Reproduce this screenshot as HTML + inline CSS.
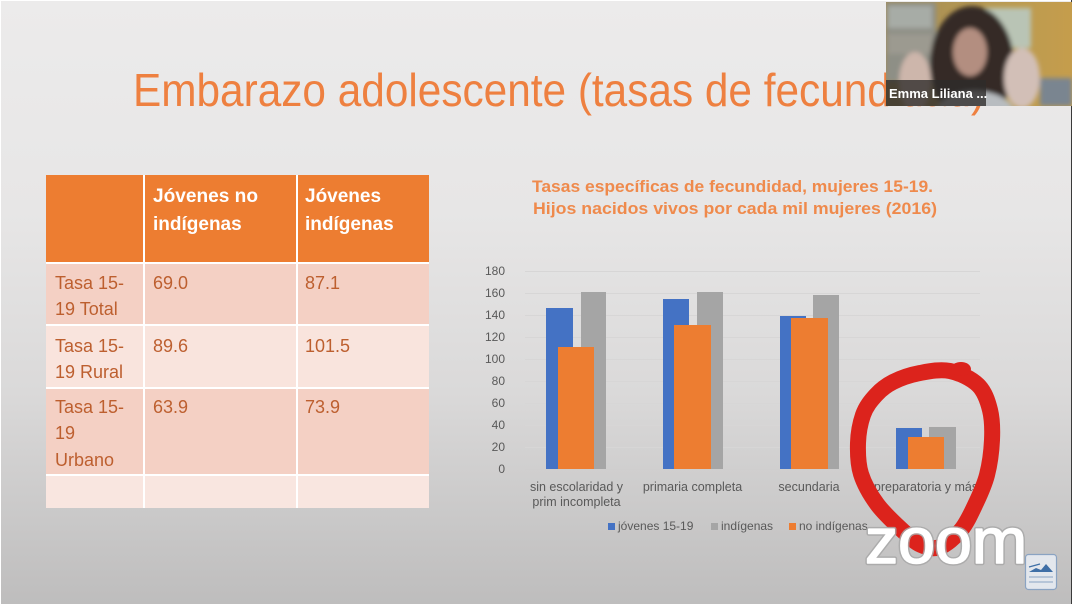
<!DOCTYPE html>
<html>
<head>
<meta charset="utf-8">
<style>
html,body{margin:0;padding:0;background:#ffffff;}
body{width:1076px;height:604px;overflow:hidden;position:relative;}
#slide{position:absolute;left:1px;top:1px;width:1070px;height:603px;
background:linear-gradient(180deg,#ecebeb 0%,#e7e6e6 35%,#dad9d9 65%,#bebdbd 100%);}
#edge{position:absolute;left:1071px;top:0;width:1px;height:604px;background:#3a3a3a;}
svg{position:absolute;left:0;top:0;}
</style>
</head>
<body>
<div id="slide"></div>
<div id="edge"></div>
<svg width="1076" height="604" viewBox="0 0 1076 604" xmlns="http://www.w3.org/2000/svg">
  <defs>
    <clipPath id="vclip"><rect x="886" y="2" width="186" height="104"/></clipPath>
    <filter id="blur" x="-10%" y="-10%" width="120%" height="120%"><feGaussianBlur stdDeviation="2.5"/></filter>
    <linearGradient id="wall" x1="0" y1="0" x2="1" y2="0">
      <stop offset="0" stop-color="#a48c55"/>
      <stop offset="0.6" stop-color="#b89a52"/>
      <stop offset="1" stop-color="#c59d4c"/>
    </linearGradient>
  </defs>

  <!-- Main title -->
  <text x="133" y="106" font-family="Liberation Sans, sans-serif" font-size="46" fill="#ee8040" textLength="852" lengthAdjust="spacingAndGlyphs">Embarazo adolescente (tasas de fecundidad)</text>

  <!-- Table -->
  <g>
    <rect x="46" y="175" width="383" height="333" fill="#ffffff"/>
    <rect x="46" y="175" width="97" height="87" fill="#ed7d31"/>
    <rect x="145" y="175" width="151" height="87" fill="#ed7d31"/>
    <rect x="298" y="175" width="131" height="87" fill="#ed7d31"/>

    <rect x="46" y="264" width="97" height="60" fill="#f4d0c4"/>
    <rect x="145" y="264" width="151" height="60" fill="#f4d0c4"/>
    <rect x="298" y="264" width="131" height="60" fill="#f4d0c4"/>

    <rect x="46" y="326" width="97" height="61" fill="#f9e4dd"/>
    <rect x="145" y="326" width="151" height="61" fill="#f9e4dd"/>
    <rect x="298" y="326" width="131" height="61" fill="#f9e4dd"/>

    <rect x="46" y="389" width="97" height="85" fill="#f4d0c4"/>
    <rect x="145" y="389" width="151" height="85" fill="#f4d0c4"/>
    <rect x="298" y="389" width="131" height="85" fill="#f4d0c4"/>

    <rect x="46" y="476" width="97" height="32" fill="#f9e6e0"/>
    <rect x="145" y="476" width="151" height="32" fill="#f9e6e0"/>
    <rect x="298" y="476" width="131" height="32" fill="#f9e6e0"/>
  </g>
  <g font-family="Liberation Sans, sans-serif" font-weight="bold" font-size="19" fill="#ffffff">
    <text x="153" y="202" textLength="105" lengthAdjust="spacingAndGlyphs">Jóvenes no</text>
    <text x="153" y="230">indígenas</text>
    <text x="305" y="202">Jóvenes</text>
    <text x="305" y="230">indígenas</text>
  </g>
  <g font-family="Liberation Sans, sans-serif" font-size="18" fill="#bd5f2f">
    <text x="55" y="289">Tasa 15-</text>
    <text x="55" y="315">19 Total</text>
    <text x="153" y="289">69.0</text>
    <text x="305" y="289">87.1</text>

    <text x="55" y="352">Tasa 15-</text>
    <text x="55" y="378">19 Rural</text>
    <text x="153" y="352">89.6</text>
    <text x="305" y="352">101.5</text>

    <text x="55" y="413">Tasa 15-</text>
    <text x="55" y="439">19</text>
    <text x="55" y="466">Urbano</text>
    <text x="153" y="413">63.9</text>
    <text x="305" y="413">73.9</text>
  </g>

  <!-- Chart title -->
  <g font-family="Liberation Sans, sans-serif" font-weight="bold" font-size="17" fill="#ef8a4c">
    <text x="532" y="192" textLength="401" lengthAdjust="spacingAndGlyphs">Tasas específicas de fecundidad, mujeres 15-19.</text>
    <text x="533" y="214" textLength="404" lengthAdjust="spacingAndGlyphs">Hijos nacidos vivos por cada mil mujeres (2016)</text>
  </g>

  <!-- Gridlines -->
  <g stroke="#d7d6d6" stroke-width="1">
    <line x1="525" x2="980" y1="271.5" y2="271.5"/>
    <line x1="525" x2="980" y1="293.5" y2="293.5"/>
    <line x1="525" x2="980" y1="315.5" y2="315.5"/>
    <line x1="525" x2="980" y1="337.5" y2="337.5"/>
    <line x1="525" x2="980" y1="359.5" y2="359.5"/>
    <line x1="525" x2="980" y1="381.5" y2="381.5"/>
    <line x1="525" x2="980" y1="403.5" y2="403.5"/>
    <line x1="525" x2="980" y1="425.5" y2="425.5"/>
    <line x1="525" x2="980" y1="447.5" y2="447.5"/>
    <line x1="525" x2="980" y1="469.5" y2="469.5" stroke="#cfcece"/>
  </g>
  <!-- Y labels -->
  <g font-family="Liberation Sans, sans-serif" font-size="12" fill="#595959" text-anchor="end">
    <text x="505" y="275">180</text>
    <text x="505" y="297">160</text>
    <text x="505" y="319">140</text>
    <text x="505" y="341">120</text>
    <text x="505" y="363">100</text>
    <text x="505" y="385">80</text>
    <text x="505" y="407">60</text>
    <text x="505" y="429">40</text>
    <text x="505" y="451">20</text>
    <text x="505" y="473">0</text>
  </g>

  <!-- Bars -->
  <g>
    <rect x="546" y="308" width="27" height="161" fill="#4472c4"/>
    <rect x="581" y="292" width="25" height="177" fill="#a5a5a5"/>
    <rect x="558" y="347" width="36" height="122" fill="#ed7d31"/>

    <rect x="663" y="299" width="26" height="170" fill="#4472c4"/>
    <rect x="697" y="292" width="26" height="177" fill="#a5a5a5"/>
    <rect x="674" y="325" width="37" height="144" fill="#ed7d31"/>

    <rect x="780" y="316" width="26" height="153" fill="#4472c4"/>
    <rect x="813" y="295" width="26" height="174" fill="#a5a5a5"/>
    <rect x="791" y="318" width="37" height="151" fill="#ed7d31"/>

    <rect x="896" y="428" width="26" height="41" fill="#4472c4"/>
    <rect x="929" y="427" width="27" height="42" fill="#a5a5a5"/>
    <rect x="908" y="437" width="36" height="32" fill="#ed7d31"/>
  </g>

  <!-- Category labels -->
  <g font-family="Liberation Sans, sans-serif" font-size="12.5" fill="#595959" text-anchor="middle">
    <text x="576.5" y="491">sin escolaridad y</text>
    <text x="576.5" y="506">prim incompleta</text>
    <text x="692.5" y="491">primaria completa</text>
    <text x="809" y="491">secundaria</text>
    <text x="926" y="491">preparatoria y más</text>
  </g>

  <!-- Legend -->
  <g font-family="Liberation Sans, sans-serif" font-size="12" fill="#595959">
    <rect x="608" y="523" width="7" height="7" fill="#4472c4"/>
    <text x="618" y="530">jóvenes 15-19</text>
    <rect x="711" y="523" width="7" height="7" fill="#a5a5a5"/>
    <text x="721" y="530">indígenas</text>
    <rect x="789" y="523" width="7" height="7" fill="#ed7d31"/>
    <text x="799" y="530">no indígenas</text>
  </g>

  <!-- Red hand-drawn circle -->
  <g>
    <path d="M876,395
      C881,389.5 885.7,385.7 893,382
      C900.3,378.3 910.5,374.8 920,373
      C929.5,371.2 940.3,369 950,371
      C959.7,373 971.3,378.5 978,385
      C984.7,391.5 987.7,400.8 990,410
      C992.3,419.2 992.5,429.2 992,440
      C991.5,450.8 989.7,464.5 987,475
      C984.3,485.5 980.3,493.8 976,503
      C971.7,512.2 967,522.7 961,530
      C955,537.3 946.7,544.5 940,547
      C933.3,549.5 927.3,547.8 921,545
      C914.7,542.2 909.3,536.8 902,530
      C894.7,523.2 883.8,513.3 877,504
      C870.2,494.7 864.2,484.2 861,474
      C857.8,463.8 857.7,452.8 858,443
      C858.3,433.2 860,423.7 863,415
      C866,406.3 871,400.5 876,395 Z"
      fill="none" stroke="#dc231c" stroke-width="16" stroke-linejoin="round"/>
    <ellipse cx="961" cy="369" rx="10" ry="7" fill="#dc231c"/>
  </g>

  <!-- Zoom watermark -->
  <text x="865" y="563" font-family="Liberation Sans, sans-serif" font-size="64" fill="#ffffff" stroke="#a8a8a8" stroke-width="4.5" stroke-linejoin="round" textLength="162" lengthAdjust="spacingAndGlyphs" opacity="0.85">zoom</text>
  <text x="865" y="563" font-family="Liberation Sans, sans-serif" font-size="64" fill="#ffffff" stroke="#ffffff" stroke-width="1.6" stroke-linejoin="round" textLength="162" lengthAdjust="spacingAndGlyphs">zoom</text>

  <!-- small logo -->
  <g>
    <rect x="1025.5" y="554.5" width="31" height="35" rx="3" fill="#e3e7ed" stroke="#8aa3c2" stroke-width="1.2"/>
    <path d="M1029,572 L1036,568 L1041,570 L1046,564 L1053,572 Z" fill="#3f6fa6"/>
    <line x1="1029" y1="567" x2="1040" y2="564" stroke="#3f6fa6" stroke-width="1.2"/>
    <line x1="1029" y1="577" x2="1053" y2="577" stroke="#8aa3c2" stroke-width="1"/>
    <line x1="1029" y1="582" x2="1053" y2="582" stroke="#8aa3c2" stroke-width="1"/>
  </g>

  <!-- Video thumbnail -->
  <g clip-path="url(#vclip)">
    <rect x="886" y="2" width="186" height="104" fill="url(#wall)"/>
    <g filter="url(#blur)">
      <rect x="886" y="2" width="50" height="80" fill="#8e8f86"/>
      <rect x="888" y="6" width="44" height="22" fill="#a7aca6"/>
      <rect x="888" y="34" width="44" height="20" fill="#9c9a90"/>
      <rect x="942" y="30" width="16" height="26" fill="#4a4636"/>
      <rect x="985" y="8" width="46" height="40" fill="#b9c4b5"/>
      <rect x="1040" y="78" width="32" height="28" fill="#7a8590"/>
      <ellipse cx="972" cy="64" rx="42" ry="58" fill="#352b27"/>
      <ellipse cx="970" cy="52" rx="17" ry="24" fill="#b38e80"/>
      <ellipse cx="975" cy="115" rx="40" ry="24" fill="#b8bcc0"/>
      <ellipse cx="915" cy="82" rx="16" ry="30" fill="#cdb6ab"/>
      <ellipse cx="1022" cy="78" rx="18" ry="30" fill="#d2bfb7"/>
    </g>
    <rect x="886" y="80" width="100" height="26" fill="#2e2b2a" opacity="0.78"/>
    <text x="889" y="98" font-family="Liberation Sans, sans-serif" font-weight="bold" font-size="13" fill="#ffffff">Emma Liliana ...</text>
  </g>
</svg>
</body>
</html>
